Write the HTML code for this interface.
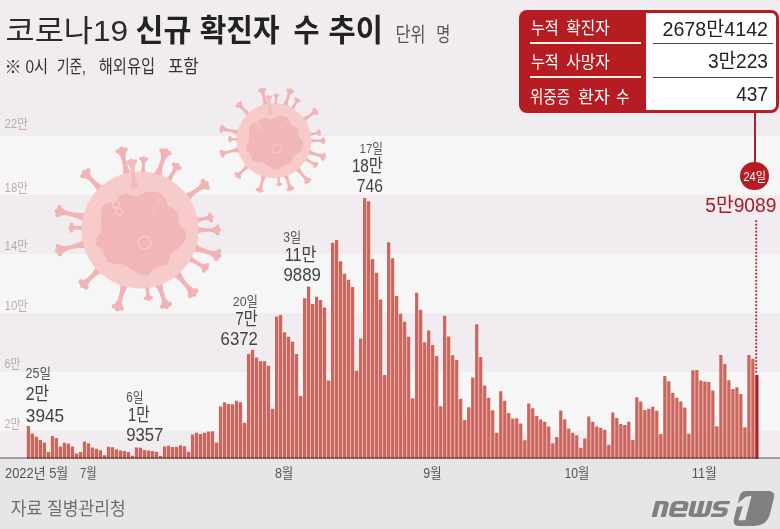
<!DOCTYPE html>
<html lang="ko"><head><meta charset="utf-8"><title>코로나19 신규 확진자 수 추이</title>
<style>
html,body{margin:0;padding:0}
body{width:780px;height:529px;overflow:hidden;position:relative;background:#f1ecf0;font-family:"Liberation Sans",sans-serif}
#box{position:absolute;left:519px;top:9.5px;width:259.5px;height:103px;background:#b51d22;border-radius:8px}
#box .w{position:absolute;left:127px;top:3.0px;width:129.5px;height:97px;background:#fff;border-radius:0 5px 5px 0}
#box i{position:absolute;height:1.5px;display:block}
#stem{position:absolute;left:753.6px;top:112px;width:2px;height:52px;background:#b51d22}
#dot{position:absolute;left:740.3px;top:162.10000000000002px;width:28.4px;height:28.4px;border-radius:50%;background:#b51d22}
#base{position:absolute;left:0;top:456.5px;width:780px;height:2.3px;background:#adadad;mix-blend-mode:multiply}
#txt text{font-family:"Liberation Sans","Noto Sans CJK KR",sans-serif}
</style></head><body>
<div style="position:absolute;left:0;top:135.5px;width:780px;height:59.5px;background:#f7f6f7"></div><div style="position:absolute;left:0;top:254px;width:780px;height:58.5px;background:#f7f6f7"></div><div style="position:absolute;left:0;top:371.5px;width:780px;height:59px;background:#f7f6f7"></div><div style="position:absolute;left:0;top:458px;width:780px;height:71px;background:#e6e6e6"></div>
<svg width="780" height="529" viewBox="0 0 780 529" style="position:absolute;left:0;top:0"><defs><g id="virus"><g fill="#f0b4b7"><path d="M-7.61 -55.2L-8.76 -56.88L-9.8 -58.58L-10.73 -60.31L-11.54 -62.07L-12.25 -63.85L-12.84 -65.65L-13.32 -67.48L-13.75 -69.33L-14.17 -71.17L-14.5 -73.04L-14.43 -75L-14.09 -77.02L-13.53 -79.09L-12.79 -81.2L-24.1 -78.59L-22.51 -77.02L-21.1 -75.4L-19.91 -73.73L-18.98 -72L-18.46 -70.18L-18.03 -68.34L-17.61 -66.49L-17.24 -64.64L-16.98 -62.75L-16.83 -60.84L-16.8 -58.91L-16.87 -56.95L-17.06 -54.96L-17.36 -52.95zM6.5 -55.24L6.03 -56.4L5.63 -57.57L5.32 -58.73L5.1 -59.89L4.95 -61.04L4.89 -62.19L4.91 -63.33L4.96 -64.47L5.02 -65.61L5.16 -66.75L5.58 -67.87L6.21 -68.98L6.99 -70.09L7.91 -71.18L-0.43 -71.62L0.37 -70.43L1.04 -69.25L1.54 -68.08L1.85 -66.92L1.86 -65.78L1.8 -64.64L1.74 -63.5L1.64 -62.36L1.46 -61.22L1.19 -60.09L0.84 -58.97L0.42 -57.84L-0.1 -56.73L-0.69 -55.61zM21.91 -51.24L21.8 -53.3L21.79 -55.33L21.9 -57.32L22.12 -59.28L22.44 -61.2L22.87 -63.09L23.41 -64.94L24.01 -66.78L24.61 -68.61L25.3 -70.41L26.38 -72.09L27.72 -73.68L29.28 -75.21L31.01 -76.67L19.98 -80.25L20.52 -78.05L20.88 -75.91L21.03 -73.83L20.92 -71.84L20.42 -69.97L19.83 -68.14L19.23 -66.3L18.58 -64.49L17.82 -62.71L16.95 -60.96L15.98 -59.25L14.89 -57.57L13.7 -55.93L12.4 -54.33zM31.43 -45.94L31.54 -47.4L31.74 -48.81L32.02 -50.17L32.39 -51.49L32.84 -52.75L33.38 -53.97L33.99 -55.14L34.66 -56.28L35.32 -57.43L36.05 -58.53L37.09 -59.46L38.33 -60.27L39.73 -60.99L41.27 -61.62L32.73 -66.55L32.95 -64.9L33.03 -63.33L32.95 -61.85L32.66 -60.49L32.08 -59.3L31.42 -58.15L30.76 -57.01L30.05 -55.89L29.27 -54.82L28.39 -53.8L27.44 -52.82L26.4 -51.9L25.28 -51.02L24.07 -50.19zM48.33 -27.74L49.34 -29.35L50.41 -30.87L51.55 -32.29L52.75 -33.63L54.02 -34.86L55.36 -36.01L56.76 -37.06L58.19 -38.06L59.63 -39.07L61.12 -39.99L62.84 -40.57L64.73 -40.93L66.74 -41.11L68.86 -41.14L62.21 -50.64L61.46 -48.65L60.6 -46.83L59.62 -45.18L58.48 -43.76L57.1 -42.67L55.67 -41.67L54.24 -40.66L52.77 -39.7L51.24 -38.84L49.64 -38.07L47.98 -37.4L46.25 -36.81L44.45 -36.32L42.6 -35.93zM55.35 -5.7L56.41 -6.49L57.48 -7.19L58.57 -7.8L59.68 -8.32L60.8 -8.75L61.93 -9.09L63.09 -9.34L64.25 -9.54L65.41 -9.75L66.58 -9.87L67.81 -9.67L69.08 -9.26L70.38 -8.67L71.71 -7.93L70.1 -17.07L69.11 -15.92L68.09 -14.93L67.03 -14.1L65.94 -13.5L64.8 -13.21L63.64 -13.01L62.48 -12.8L61.31 -12.64L60.12 -12.57L58.92 -12.59L57.71 -12.71L56.47 -12.91L55.23 -13.2L53.96 -13.58zM55.5 4.25L57.11 3.62L58.71 3.08L60.32 2.65L61.93 2.31L63.54 2.06L65.14 1.92L66.75 1.87L68.36 1.87L69.96 1.87L71.57 1.96L73.18 2.39L74.79 3.06L76.39 3.91L78 4.93L78 -4.93L76.39 -3.91L74.79 -3.06L73.18 -2.39L71.57 -1.96L69.96 -1.87L68.36 -1.87L66.75 -1.87L65.14 -1.92L63.54 -2.06L61.93 -2.31L60.32 -2.65L58.71 -3.08L57.11 -3.62L55.5 -4.25zM51.24 21.91L53.27 21.78L55.26 21.77L57.22 21.87L59.15 22.07L61.03 22.38L62.89 22.81L64.71 23.34L66.51 23.92L68.31 24.51L70.07 25.19L71.72 26.26L73.27 27.59L74.76 29.13L76.19 30.86L79.78 19.82L77.61 20.38L75.5 20.75L73.45 20.91L71.5 20.81L69.67 20.32L67.87 19.74L66.06 19.15L64.28 18.51L62.54 17.77L60.82 16.91L59.15 15.94L57.51 14.87L55.9 13.69L54.33 12.4zM45.94 31.43L47.52 31.62L49.06 31.89L50.55 32.24L51.98 32.68L53.37 33.2L54.71 33.8L56.01 34.49L57.27 35.23L58.54 35.96L59.77 36.77L60.82 37.87L61.75 39.18L62.59 40.66L63.35 42.27L68.28 33.73L66.51 33.88L64.81 33.89L63.21 33.73L61.72 33.38L60.41 32.72L59.14 31.99L57.88 31.26L56.63 30.48L55.44 29.62L54.29 28.68L53.19 27.65L52.14 26.54L51.14 25.35L50.19 24.07zM31.84 45.73L33.68 46.76L35.42 47.86L37.08 49.03L38.65 50.28L40.13 51.6L41.52 52.99L42.83 54.46L44.09 55.97L45.35 57.47L46.54 59.04L47.41 60.87L48.07 62.88L48.56 65.04L48.91 67.31L57.79 59.85L55.61 59.12L53.58 58.26L51.72 57.26L50.06 56.08L48.72 54.64L47.46 53.14L46.2 51.63L44.98 50.09L43.85 48.48L42.8 46.79L41.85 45.03L40.98 43.19L40.2 41.28L39.5 39.3zM13.34 54.1L14.61 55.52L15.78 56.97L16.83 58.45L17.78 59.98L18.62 61.54L19.35 63.14L19.98 64.78L20.55 66.43L21.12 68.08L21.59 69.77L21.68 71.59L21.5 73.5L21.12 75.49L20.56 77.53L31.53 73.75L29.83 72.49L28.31 71.16L26.99 69.76L25.94 68.27L25.28 66.65L24.71 65L24.14 63.34L23.62 61.67L23.21 59.96L22.91 58.21L22.72 56.43L22.64 54.6L22.66 52.74L22.8 50.85zM3.04 55.54L3.71 56.43L4.3 57.33L4.8 58.24L5.21 59.16L5.54 60.09L5.79 61.04L5.95 61.99L6.07 62.94L6.18 63.9L6.23 64.87L5.96 65.87L5.5 66.9L4.86 67.95L4.09 69.02L12.73 67.96L11.72 67.11L10.85 66.24L10.15 65.36L9.65 64.45L9.46 63.5L9.34 62.54L9.22 61.58L9.15 60.62L9.16 59.65L9.25 58.67L9.43 57.67L9.7 56.67L10.05 55.65L10.49 54.63zM-20.1 51.97L-19.89 53.93L-19.79 55.85L-19.8 57.74L-19.92 59.61L-20.14 61.43L-20.48 63.23L-20.93 65L-21.43 66.75L-21.93 68.5L-22.53 70.22L-23.52 71.83L-24.78 73.37L-26.25 74.84L-27.9 76.26L-16.75 79.46L-17.4 77.38L-17.86 75.35L-18.12 73.38L-18.11 71.49L-17.7 69.71L-17.2 67.96L-16.7 66.21L-16.14 64.48L-15.47 62.77L-14.7 61.1L-13.81 59.46L-12.81 57.85L-11.71 56.27L-10.49 54.73zM-43.4 34.96L-44.09 36.66L-44.86 38.28L-45.71 39.81L-46.64 41.27L-47.65 42.64L-48.74 43.93L-49.9 45.13L-51.11 46.3L-52.32 47.47L-53.6 48.56L-55.16 49.36L-56.91 49.96L-58.82 50.4L-60.86 50.71L-52.8 59.05L-52.42 57.02L-51.91 55.13L-51.25 53.4L-50.4 51.87L-49.26 50.63L-48.05 49.46L-46.85 48.3L-45.6 47.17L-44.27 46.13L-42.87 45.17L-41.38 44.29L-39.82 43.5L-38.17 42.78L-36.45 42.15zM-55.06 8.58L-56.86 9.79L-58.68 10.89L-60.53 11.88L-62.41 12.76L-64.32 13.53L-66.25 14.19L-68.21 14.74L-70.19 15.23L-72.16 15.72L-74.16 16.12L-76.26 16.12L-78.42 15.85L-80.64 15.36L-82.91 14.69L-80.1 25.95L-78.42 24.3L-76.68 22.83L-74.9 21.57L-73.05 20.58L-71.1 19.99L-69.12 19.5L-67.15 19.01L-65.16 18.57L-63.14 18.25L-61.1 18.03L-59.02 17.93L-56.92 17.93L-54.8 18.05L-52.64 18.28zM-55.33 -5.93L-56.31 -5.37L-57.29 -4.91L-58.27 -4.53L-59.25 -4.24L-60.22 -4.05L-61.19 -3.94L-62.15 -3.93L-63.11 -3.97L-64.08 -4L-65.04 -4.11L-65.99 -4.56L-66.93 -5.22L-67.87 -6.05L-68.8 -7.05L-69.12 2.23L-68.12 1.31L-67.13 0.54L-66.15 -0.06L-65.17 -0.43L-64.2 -0.48L-63.24 -0.45L-62.27 -0.41L-61.31 -0.33L-60.35 -0.16L-59.4 0.1L-58.44 0.45L-57.49 0.9L-56.55 1.43L-55.61 2.06zM-52.95 -17.36L-55.1 -17.09L-57.23 -16.94L-59.33 -16.89L-61.4 -16.96L-63.45 -17.14L-65.47 -17.43L-67.47 -17.83L-69.45 -18.29L-71.43 -18.75L-73.4 -19.31L-75.26 -20.26L-77.07 -21.49L-78.83 -22.92L-80.54 -24.55L-83.15 -13.24L-80.9 -13.95L-78.69 -14.47L-76.53 -14.78L-74.43 -14.82L-72.42 -14.46L-70.44 -14L-68.46 -13.55L-66.49 -13.03L-64.54 -12.41L-62.62 -11.67L-60.73 -10.82L-58.86 -9.87L-57.02 -8.79L-55.2 -7.61zM-34.96 -43.4L-36.66 -44.09L-38.28 -44.86L-39.81 -45.71L-41.27 -46.64L-42.64 -47.65L-43.93 -48.74L-45.13 -49.9L-46.3 -51.11L-47.47 -52.32L-48.56 -53.6L-49.36 -55.16L-49.96 -56.91L-50.4 -58.82L-50.71 -60.86L-59.05 -52.8L-57.02 -52.42L-55.13 -51.91L-53.4 -51.25L-51.87 -50.4L-50.63 -49.26L-49.46 -48.05L-48.3 -46.85L-47.17 -45.6L-46.13 -44.27L-45.17 -42.87L-44.29 -41.38L-43.5 -39.82L-42.78 -38.17L-42.15 -36.45z"/><circle cx="-22.2" cy="-78.62" r="2.4"/><circle cx="-18.63" cy="-80.68" r="2.6"/><circle cx="-14.51" cy="-80.4" r="2.4"/><circle cx="0.89" cy="-71.26" r="1.73"/><circle cx="3.77" cy="-71.98" r="1.87"/><circle cx="6.56" cy="-70.97" r="1.73"/><circle cx="21.62" cy="-79.3" r="2.4"/><circle cx="25.74" cy="-79.22" r="2.6"/><circle cx="29.12" cy="-76.86" r="2.4"/><circle cx="33.93" cy="-65.47" r="2.04"/><circle cx="37.34" cy="-64.67" r="2.21"/><circle cx="39.73" cy="-62.12" r="2.04"/><circle cx="62.94" cy="-48.89" r="2.4"/><circle cx="66.19" cy="-46.34" r="2.6"/><circle cx="67.47" cy="-42.43" r="2.4"/><circle cx="70.04" cy="-15.55" r="1.92"/><circle cx="71.54" cy="-12.61" r="2.08"/><circle cx="71.14" cy="-9.34" r="1.92"/><circle cx="77.66" cy="-3.35" r="2.04"/><circle cx="78.68" cy="0" r="2.21"/><circle cx="77.66" cy="3.35" r="2.04"/><circle cx="78.82" cy="21.46" r="2.4"/><circle cx="78.75" cy="25.59" r="2.6"/><circle cx="76.39" cy="28.97" r="2.4"/><circle cx="67.2" cy="34.93" r="2.04"/><circle cx="66.41" cy="38.34" r="2.21"/><circle cx="63.85" cy="40.73" r="2.04"/><circle cx="56.12" cy="60.74" r="2.4"/><circle cx="53.87" cy="64.19" r="2.6"/><circle cx="50.07" cy="65.81" r="2.4"/><circle cx="29.64" cy="73.98" r="2.4"/><circle cx="26.31" cy="76.4" r="2.6"/><circle cx="22.19" cy="76.55" r="2.4"/><circle cx="11.31" cy="67.83" r="1.8"/><circle cx="8.48" cy="69.08" r="1.95"/><circle cx="5.44" cy="68.55" r="1.8"/><circle cx="-18.43" cy="78.56" r="2.4"/><circle cx="-22.55" cy="78.63" r="2.6"/><circle cx="-26.01" cy="76.39" r="2.4"/><circle cx="-53.8" cy="57.44" r="2.4"/><circle cx="-57.4" cy="55.43" r="2.6"/><circle cx="-59.28" cy="51.76" r="2.4"/><circle cx="-80.16" cy="24.05" r="2.4"/><circle cx="-82.28" cy="20.51" r="2.6"/><circle cx="-82.07" cy="16.4" r="2.4"/><circle cx="-68.75" cy="0.76" r="1.92"/><circle cx="-69.6" cy="-2.43" r="2.08"/><circle cx="-68.53" cy="-5.55" r="1.92"/><circle cx="-82.34" cy="-14.96" r="2.4"/><circle cx="-82.63" cy="-19.08" r="2.6"/><circle cx="-80.57" cy="-22.65" r="2.4"/><circle cx="-57.44" cy="-53.8" r="2.4"/><circle cx="-55.43" cy="-57.4" r="2.6"/><circle cx="-51.76" cy="-59.28" r="2.4"/></g><circle r="58.5" fill="#f6cbc9"/><path fill="#f1b6b7" d="M46.17 2L45.89 8.77L42.45 14.85L37.09 19.6L31.19 23.1L29.27 29.26L26.13 35.5L18.93 36.61L13.08 39.5L7.35 45.21L0 44.69L-6.54 40.48L-12.33 37.34L-17.71 34.37L-24.83 33.83L-32.6 32.36L-35.27 25.87L-37.75 19.92L-43.76 15.24L-43.91 8.48L-39.51 2L-38.74 -3.71L-39.03 -9.81L-39.26 -16.63L-38.13 -23.8L-31.31 -27.17L-24.23 -29.06L-19.96 -34.49L-13.39 -36.39L-6.06 -33.61L0 -35.11L6.86 -38.34L14.15 -38.55L21.19 -36.73L25.53 -30.73L27.98 -24.06L34.05 -21.04L38.59 -16.31L37.73 -9.42L40.71 -4.01z"/><g fill="#f2bcbd"><path d="M-0.65 -42.24L-1.55 -44.07L-2.35 -45.91L-3.04 -47.77L-3.63 -49.64L-4.12 -51.52L-4.51 -53.42L-4.8 -55.33L-5.03 -57.24L-5.27 -59.16L-5.41 -61.08L-5.19 -63.05L-4.73 -65.05L-4.06 -67.08L-3.23 -69.12L-13.59 -67.85L-12.29 -66.07L-11.15 -64.26L-10.22 -62.43L-9.52 -60.58L-9.2 -58.67L-8.96 -56.76L-8.73 -54.85L-8.55 -52.92L-8.46 -50.99L-8.48 -49.05L-8.61 -47.09L-8.83 -45.12L-9.16 -43.13L-9.58 -41.14zM14.5 -14.34L14.65 -15.62L14.87 -16.85L15.17 -18.03L15.54 -19.16L15.99 -20.23L16.52 -21.26L17.12 -22.23L17.76 -23.18L18.39 -24.12L19.1 -25.03L20.08 -25.75L21.24 -26.34L22.54 -26.84L23.98 -27.25L16.28 -32.44L16.44 -30.96L16.47 -29.56L16.35 -28.26L16.05 -27.08L15.48 -26.09L14.84 -25.14L14.2 -24.2L13.52 -23.28L12.77 -22.4L11.94 -21.58L11.04 -20.82L10.06 -20.1L9 -19.43L7.87 -18.82z"/><circle cx="-11.89" cy="-67.7" r="2.16"/><circle cx="-8.5" cy="-69.2" r="2.34"/><circle cx="-4.84" cy="-68.56" r="2.16"/><circle cx="17.34" cy="-31.34" r="1.92"/><circle cx="20.49" cy="-30.38" r="2.08"/><circle cx="22.57" cy="-27.82" r="1.92"/></g><circle cx="4.5" cy="12.5" r="6.4" fill="none" stroke="#f6cfcf" stroke-width="1.2"/><circle cx="-24" cy="-25.5" r="3.3" fill="none" stroke="#f6cfcf" stroke-width="1.2"/><circle cx="-21" cy="-18.5" r="3.3" fill="none" stroke="#f6cfcf" stroke-width="1.2"/></g></defs><use href="#virus" transform="translate(140 230) scale(1.0)"/><use href="#virus" transform="translate(273.9 140.7) scale(0.64)"/><path fill="#f6cbc6" d="M29.7 434.36H31.1V458.7H29.7zM33.7 437.61H35.11V458.7H33.7zM37.71 440.79H39.11V458.7H37.71zM41.71 443.32H43.11V458.7H41.71zM45.71 452.8H47.11V458.7H45.71zM49.71 452.8H51.12V458.7H49.71zM53.72 438.75H55.12V458.7H53.72zM57.72 447.33H59.12V458.7H57.72zM61.72 447.33H63.12V458.7H61.72zM65.72 444.2H67.13V458.7H65.72zM69.73 447.42H71.13V458.7H69.73zM73.73 454.42H75.13V458.7H73.73zM77.73 454.42H79.14V458.7H77.73zM81.74 452.75H83.14V458.7H81.74zM85.74 444.04H87.14V458.7H85.74zM89.74 448.18H91.14V458.7H89.74zM93.74 449.45H95.15V458.7H93.74zM97.75 450.99H99.15V458.7H97.75zM101.75 456.16H103.15V458.7H101.75zM105.75 456.16H107.15V458.7H105.75zM109.75 448H111.16V458.7H109.75zM113.76 450.1H115.16V458.7H113.76zM117.76 451.26H119.16V458.7H117.76zM121.76 451.78H123.16V458.7H121.76zM125.76 452.9H127.17V458.7H125.76zM129.77 456.58H131.17V458.7H129.77zM133.77 456.58H135.17V458.7H133.77zM137.77 448.65H139.18V458.7H137.77zM141.78 450.82H143.18V458.7H141.78zM145.78 451.22H147.18V458.7H145.78zM149.78 451.85H151.18V458.7H149.78zM153.78 452.64H155.19V458.7H153.78zM157.79 456.74H159.19V458.7H157.79zM161.79 456.74H163.19V458.7H161.79zM165.79 447.33H167.19V458.7H165.79zM169.79 447.77H171.2V458.7H169.79zM173.8 447.87H175.2V458.7H173.8zM177.8 447.87H179.2V458.7H177.8zM181.8 447.1H183.21V458.7H181.8zM185.81 452.63H187.21V458.7H185.81zM189.81 452.63H191.21V458.7H189.81zM193.81 435.33H195.21V458.7H193.81zM197.81 434.8H199.22V458.7H197.81zM201.82 434.8H203.22V458.7H201.82zM205.82 433.62H207.22V458.7H205.82zM209.82 432.22H211.22V458.7H209.82zM213.82 443.27H215.23V458.7H213.82zM217.83 443.27H219.23V458.7H217.83zM221.83 407.38H223.23V458.7H221.83zM225.83 404.71H227.24V458.7H225.83zM229.83 405.17H231.24V458.7H229.83zM233.84 405.17H235.24V458.7H233.84zM237.84 403.04H239.24V458.7H237.84zM241.84 423.47H243.25V458.7H241.84zM245.85 423.47H247.25V458.7H245.85zM249.85 354.69H251.25V458.7H249.85zM253.85 358.2H255.25V458.7H253.85zM257.85 361.89H259.26V458.7H257.85zM261.86 362.01H263.26V458.7H261.86zM265.86 366.54H267.26V458.7H265.86zM269.86 409.53H271.26V458.7H269.86zM273.86 409.53H275.27V458.7H273.86zM277.87 317.24H279.27V458.7H277.87zM281.87 333.16H283.27V458.7H281.87zM285.87 337.61H287.28V458.7H285.87zM289.88 342.44H291.28V458.7H289.88zM293.88 354.68H295.28V458.7H293.88zM297.88 396.72H299.28V458.7H297.88zM301.88 396.72H303.29V458.7H301.88zM305.89 299.11H307.29V458.7H305.89zM309.89 304.78H311.29V458.7H309.89zM313.89 304.78H315.29V458.7H313.89zM317.89 300.74H319.3V458.7H317.89zM321.9 308.25H323.3V458.7H321.9zM325.9 381.3H327.3V458.7H325.9zM329.9 381.3H331.31V458.7H329.9zM333.91 243.67H335.31V458.7H333.91zM337.91 262.09H339.31V458.7H337.91zM341.91 274.49H343.31V458.7H341.91zM345.91 280.49H347.32V458.7H345.91zM349.92 287.74H351.32V458.7H349.92zM353.92 371.43H355.32V458.7H353.92zM357.92 371.43H359.32V458.7H357.92zM361.92 339.35H363.33V458.7H361.92zM365.93 201.96H367.33V458.7H365.93zM369.93 259.8H371.33V458.7H369.93zM373.93 273.48H375.33V458.7H373.93zM377.93 300.34H379.34V458.7H377.93zM381.94 375.84H383.34V458.7H381.94zM385.94 375.84H387.34V458.7H385.94zM389.94 259.03H391.35V458.7H389.94zM393.95 296.81H395.35V458.7H393.95zM397.95 314.6H399.35V458.7H397.95zM401.95 322.65H403.35V458.7H401.95zM405.95 337.65H407.36V458.7H405.95zM409.96 398.97H411.36V458.7H409.96zM413.96 398.97H415.36V458.7H413.96zM417.96 310.5H419.36V458.7H417.96zM421.96 343.07H423.37V458.7H421.96zM425.97 343.07H427.37V458.7H425.97zM429.97 345.72H431.37V458.7H429.97zM433.97 356.78H435.38V458.7H433.97zM437.98 407.11H439.38V458.7H437.98zM441.98 407.11H443.38V458.7H441.98zM445.98 337.29H447.38V458.7H445.98zM449.98 356.05H451.39V458.7H449.98zM453.99 360.76H455.39V458.7H453.99zM457.99 399.58H459.39V458.7H457.99zM461.99 420.69H463.39V458.7H461.99zM465.99 420.69H467.4V458.7H465.99zM470 408H471.4V458.7H470zM474 378.36H475.4V458.7H474zM478 357.76H479.41V458.7H478zM482.01 386.27H483.41V458.7H482.01zM486.01 398.51H487.41V458.7H486.01zM490.01 411.16H491.41V458.7H490.01zM494.01 433.5H495.42V458.7H494.01zM498.02 433.5H499.42V458.7H498.02zM502.02 401.67H503.42V458.7H502.02zM506.02 413.71H507.42V458.7H506.02zM510.02 419.39H511.43V458.7H510.02zM514.03 419.39H515.43V458.7H514.03zM518.03 424.21H519.43V458.7H518.03zM522.03 441.12H523.43V458.7H522.03zM526.03 441.12H527.44V458.7H526.03zM530.04 409.13H531.44V458.7H530.04zM534.04 416.81H535.44V458.7H534.04zM538.04 420.28H539.45V458.7H538.04zM542.05 422.51H543.45V458.7H542.05zM546.05 427.4H547.45V458.7H546.05zM550.05 444.06H551.45V458.7H550.05zM554.05 444.06H555.46V458.7H554.05zM558.06 437.84H559.46V458.7H558.06zM562.06 420.06H563.46V458.7H562.06zM566.06 429.29H567.46V458.7H566.06zM570.06 433.46H571.47V458.7H570.06zM574.07 436.05H575.47V458.7H574.07zM578.07 448.67H579.47V458.7H578.07zM582.07 448.67H583.48V458.7H582.07zM586.08 439.22H587.48V458.7H586.08zM590.08 422.52H591.48V458.7H590.08zM594.08 427.42H595.48V458.7H594.08zM598.08 428.5H599.49V458.7H598.08zM602.09 430.5H603.49V458.7H602.09zM606.09 445.67H607.49V458.7H606.09zM610.09 445.67H611.49V458.7H610.09zM614.09 418.81H615.5V458.7H614.09zM618.1 424.74H619.5V458.7H618.1zM622.1 425.72H623.5V458.7H622.1zM626.1 425.72H627.5V458.7H626.1zM630.11 440.92H631.51V458.7H630.11zM634.11 440.92H635.51V458.7H634.11zM638.11 402.32H639.51V458.7H638.11zM642.11 410.83H643.52V458.7H642.11zM646.12 410.83H647.52V458.7H646.12zM650.12 409.47H651.52V458.7H650.12zM654.12 411.53H655.52V458.7H654.12zM658.12 434.8H659.53V458.7H658.12zM662.13 434.8H663.53V458.7H662.13zM666.13 382.06H667.53V458.7H666.13zM670.13 393.51H671.53V458.7H670.13zM674.13 398.52H675.54V458.7H674.13zM678.14 402.23H679.54V458.7H678.14zM682.14 408.38H683.54V458.7H682.14zM686.14 434.57H687.55V458.7H686.14zM690.15 434.57H691.55V458.7H690.15zM694.15 371.14H695.55V458.7H694.15zM698.15 381.19H699.55V458.7H698.15zM702.15 382.42H703.56V458.7H702.15zM706.16 382.7H707.56V458.7H706.16zM710.16 391.23H711.56V458.7H710.16zM714.16 427.16H715.56V458.7H714.16zM718.16 427.16H719.57V458.7H718.16zM722.17 364.87H723.57V458.7H722.17zM726.17 381.09H727.57V458.7H726.17zM730.17 389.84H731.58V458.7H730.17zM734.18 389.84H735.58V458.7H734.18zM738.18 394.8H739.58V458.7H738.18zM742.18 428.14H743.58V458.7H742.18zM746.18 428.14H747.59V458.7H746.18zM750.19 359.43H751.59V458.7H750.19zM754.19 375.77H755.59V458.7H754.19z"/><path fill="#c9675f" d="M26.8 426.1h3.2V458.7h-3.2zM30.8 433.56h3.2V458.7h-3.2zM34.81 436.81h3.2V458.7h-3.2zM38.81 439.99h3.2V458.7h-3.2zM42.81 442.52h3.2V458.7h-3.2zM46.81 452h3.2V458.7h-3.2zM50.82 435.92h3.2V458.7h-3.2zM54.82 437.95h3.2V458.7h-3.2zM58.82 446.53h3.2V458.7h-3.2zM62.82 442.69h3.2V458.7h-3.2zM66.83 443.4h3.2V458.7h-3.2zM70.83 446.62h3.2V458.7h-3.2zM74.83 453.62h3.2V458.7h-3.2zM78.84 451.95h3.2V458.7h-3.2zM82.84 441.5h3.2V458.7h-3.2zM86.84 443.24h3.2V458.7h-3.2zM90.84 447.38h3.2V458.7h-3.2zM94.85 448.65h3.2V458.7h-3.2zM98.85 450.19h3.2V458.7h-3.2zM102.85 455.36h3.2V458.7h-3.2zM106.85 446.71h3.2V458.7h-3.2zM110.86 447.2h3.2V458.7h-3.2zM114.86 449.3h3.2V458.7h-3.2zM118.86 450.46h3.2V458.7h-3.2zM122.86 450.98h3.2V458.7h-3.2zM126.87 452.1h3.2V458.7h-3.2zM130.87 455.78h3.2V458.7h-3.2zM134.87 447.39h3.2V458.7h-3.2zM138.88 447.85h3.2V458.7h-3.2zM142.88 450.02h3.2V458.7h-3.2zM146.88 450.42h3.2V458.7h-3.2zM150.88 451.05h3.2V458.7h-3.2zM154.89 451.84h3.2V458.7h-3.2zM158.89 455.94h3.2V458.7h-3.2zM162.89 446.53h3.2V458.7h-3.2zM166.89 445.71h3.2V458.7h-3.2zM170.9 446.97h3.2V458.7h-3.2zM174.9 447.07h3.2V458.7h-3.2zM178.9 445.34h3.2V458.7h-3.2zM182.91 446.3h3.2V458.7h-3.2zM186.91 451.83h3.2V458.7h-3.2zM190.91 434.53h3.2V458.7h-3.2zM194.91 432.77h3.2V458.7h-3.2zM198.92 434h3.2V458.7h-3.2zM202.92 432.82h3.2V458.7h-3.2zM206.92 431.42h3.2V458.7h-3.2zM210.92 431.24h3.2V458.7h-3.2zM214.93 442.47h3.2V458.7h-3.2zM218.93 406.58h3.2V458.7h-3.2zM222.93 402.36h3.2V458.7h-3.2zM226.94 403.91h3.2V458.7h-3.2zM230.94 404.37h3.2V458.7h-3.2zM234.94 400.84h3.2V458.7h-3.2zM238.94 402.24h3.2V458.7h-3.2zM242.95 422.67h3.2V458.7h-3.2zM246.95 353.89h3.2V458.7h-3.2zM250.95 349.83h3.2V458.7h-3.2zM254.95 357.4h3.2V458.7h-3.2zM258.96 361.09h3.2V458.7h-3.2zM262.96 361.21h3.2V458.7h-3.2zM266.96 365.74h3.2V458.7h-3.2zM270.96 408.73h3.2V458.7h-3.2zM274.97 316.44h3.2V458.7h-3.2zM278.97 315.05h3.2V458.7h-3.2zM282.97 332.36h3.2V458.7h-3.2zM286.98 336.81h3.2V458.7h-3.2zM290.98 341.64h3.2V458.7h-3.2zM294.98 353.88h3.2V458.7h-3.2zM298.98 395.92h3.2V458.7h-3.2zM302.99 298.31h3.2V458.7h-3.2zM306.99 286.53h3.2V458.7h-3.2zM310.99 303.98h3.2V458.7h-3.2zM314.99 296.69h3.2V458.7h-3.2zM319 299.94h3.2V458.7h-3.2zM323 307.45h3.2V458.7h-3.2zM327 380.5h3.2V458.7h-3.2zM331.01 242.87h3.2V458.7h-3.2zM335.01 240.12h3.2V458.7h-3.2zM339.01 261.29h3.2V458.7h-3.2zM343.01 273.69h3.2V458.7h-3.2zM347.02 279.69h3.2V458.7h-3.2zM351.02 286.94h3.2V458.7h-3.2zM355.02 370.63h3.2V458.7h-3.2zM359.02 338.55h3.2V458.7h-3.2zM363.03 198h3.2V458.7h-3.2zM367.03 201.16h3.2V458.7h-3.2zM371.03 259h3.2V458.7h-3.2zM375.03 272.68h3.2V458.7h-3.2zM379.04 299.54h3.2V458.7h-3.2zM383.04 375.04h3.2V458.7h-3.2zM387.04 242.35h3.2V458.7h-3.2zM391.05 258.23h3.2V458.7h-3.2zM395.05 296.01h3.2V458.7h-3.2zM399.05 313.8h3.2V458.7h-3.2zM403.05 321.85h3.2V458.7h-3.2zM407.06 336.85h3.2V458.7h-3.2zM411.06 398.17h3.2V458.7h-3.2zM415.06 292.71h3.2V458.7h-3.2zM419.06 309.7h3.2V458.7h-3.2zM423.07 342.27h3.2V458.7h-3.2zM427.07 330.61h3.2V458.7h-3.2zM431.07 344.92h3.2V458.7h-3.2zM435.08 355.98h3.2V458.7h-3.2zM439.08 406.31h3.2V458.7h-3.2zM443.08 315.7h3.2V458.7h-3.2zM447.08 336.49h3.2V458.7h-3.2zM451.09 355.25h3.2V458.7h-3.2zM455.09 359.96h3.2V458.7h-3.2zM459.09 398.78h3.2V458.7h-3.2zM463.09 419.89h3.2V458.7h-3.2zM467.1 407.2h3.2V458.7h-3.2zM471.1 377.56h3.2V458.7h-3.2zM475.1 324.22h3.2V458.7h-3.2zM479.11 356.96h3.2V458.7h-3.2zM483.11 385.47h3.2V458.7h-3.2zM487.11 397.71h3.2V458.7h-3.2zM491.11 410.36h3.2V458.7h-3.2zM495.12 432.7h3.2V458.7h-3.2zM499.12 391.23h3.2V458.7h-3.2zM503.12 400.87h3.2V458.7h-3.2zM507.12 412.91h3.2V458.7h-3.2zM511.13 418.59h3.2V458.7h-3.2zM515.13 418.23h3.2V458.7h-3.2zM519.13 423.41h3.2V458.7h-3.2zM523.13 440.32h3.2V458.7h-3.2zM527.14 403.58h3.2V458.7h-3.2zM531.14 408.33h3.2V458.7h-3.2zM535.14 416.01h3.2V458.7h-3.2zM539.15 419.48h3.2V458.7h-3.2zM543.15 421.71h3.2V458.7h-3.2zM547.15 426.6h3.2V458.7h-3.2zM551.15 443.26h3.2V458.7h-3.2zM555.16 437.04h3.2V458.7h-3.2zM559.16 410.4h3.2V458.7h-3.2zM563.16 419.26h3.2V458.7h-3.2zM567.16 428.49h3.2V458.7h-3.2zM571.17 432.66h3.2V458.7h-3.2zM575.17 435.25h3.2V458.7h-3.2zM579.17 447.87h3.2V458.7h-3.2zM583.18 438.42h3.2V458.7h-3.2zM587.18 416.51h3.2V458.7h-3.2zM591.18 421.72h3.2V458.7h-3.2zM595.18 426.62h3.2V458.7h-3.2zM599.19 427.7h3.2V458.7h-3.2zM603.19 429.7h3.2V458.7h-3.2zM607.19 444.87h3.2V458.7h-3.2zM611.19 412.56h3.2V458.7h-3.2zM615.2 418.01h3.2V458.7h-3.2zM619.2 423.94h3.2V458.7h-3.2zM623.2 424.92h3.2V458.7h-3.2zM627.2 421.79h3.2V458.7h-3.2zM631.21 440.12h3.2V458.7h-3.2zM635.21 397.27h3.2V458.7h-3.2zM639.21 401.52h3.2V458.7h-3.2zM643.22 410.03h3.2V458.7h-3.2zM647.22 408.67h3.2V458.7h-3.2zM651.22 406.64h3.2V458.7h-3.2zM655.22 410.73h3.2V458.7h-3.2zM659.23 434h3.2V458.7h-3.2zM663.23 376.01h3.2V458.7h-3.2zM667.23 381.26h3.2V458.7h-3.2zM671.23 392.71h3.2V458.7h-3.2zM675.24 397.72h3.2V458.7h-3.2zM679.24 401.43h3.2V458.7h-3.2zM683.24 407.58h3.2V458.7h-3.2zM687.25 433.77h3.2V458.7h-3.2zM691.25 370.34h3.2V458.7h-3.2zM695.25 370.05h3.2V458.7h-3.2zM699.25 380.39h3.2V458.7h-3.2zM703.26 381.62h3.2V458.7h-3.2zM707.26 381.9h3.2V458.7h-3.2zM711.26 390.43h3.2V458.7h-3.2zM715.26 426.36h3.2V458.7h-3.2zM719.27 354.91h3.2V458.7h-3.2zM723.27 364.07h3.2V458.7h-3.2zM727.27 380.29h3.2V458.7h-3.2zM731.28 389.04h3.2V458.7h-3.2zM735.28 387.34h3.2V458.7h-3.2zM739.28 394h3.2V458.7h-3.2zM743.28 427.34h3.2V458.7h-3.2zM747.29 354.92h3.2V458.7h-3.2zM751.29 358.63h3.2V458.7h-3.2z"/><path fill="#ab222a" d="M755.29 374.97h3.2V458.7h-3.2z"/><g fill="#b51d22"><rect x="755.3" y="220.3" width="1.8" height="1.8"/><rect x="755.3" y="223.8" width="1.8" height="1.8"/><rect x="755.3" y="227.3" width="1.8" height="1.8"/><rect x="755.3" y="230.8" width="1.8" height="1.8"/><rect x="755.3" y="234.3" width="1.8" height="1.8"/><rect x="755.3" y="237.8" width="1.8" height="1.8"/><rect x="755.3" y="241.3" width="1.8" height="1.8"/><rect x="755.3" y="244.8" width="1.8" height="1.8"/><rect x="755.3" y="248.3" width="1.8" height="1.8"/><rect x="755.3" y="251.8" width="1.8" height="1.8"/><rect x="755.3" y="255.3" width="1.8" height="1.8"/><rect x="755.3" y="258.8" width="1.8" height="1.8"/><rect x="755.3" y="262.3" width="1.8" height="1.8"/><rect x="755.3" y="265.8" width="1.8" height="1.8"/><rect x="755.3" y="269.3" width="1.8" height="1.8"/><rect x="755.3" y="272.8" width="1.8" height="1.8"/><rect x="755.3" y="276.3" width="1.8" height="1.8"/><rect x="755.3" y="279.8" width="1.8" height="1.8"/><rect x="755.3" y="283.3" width="1.8" height="1.8"/><rect x="755.3" y="286.8" width="1.8" height="1.8"/><rect x="755.3" y="290.3" width="1.8" height="1.8"/><rect x="755.3" y="293.8" width="1.8" height="1.8"/><rect x="755.3" y="297.3" width="1.8" height="1.8"/><rect x="755.3" y="300.8" width="1.8" height="1.8"/><rect x="755.3" y="304.3" width="1.8" height="1.8"/><rect x="755.3" y="307.8" width="1.8" height="1.8"/><rect x="755.3" y="311.3" width="1.8" height="1.8"/><rect x="755.3" y="314.8" width="1.8" height="1.8"/><rect x="755.3" y="318.3" width="1.8" height="1.8"/><rect x="755.3" y="321.8" width="1.8" height="1.8"/><rect x="755.3" y="325.3" width="1.8" height="1.8"/><rect x="755.3" y="328.8" width="1.8" height="1.8"/><rect x="755.3" y="332.3" width="1.8" height="1.8"/><rect x="755.3" y="335.8" width="1.8" height="1.8"/><rect x="755.3" y="339.3" width="1.8" height="1.8"/><rect x="755.3" y="342.8" width="1.8" height="1.8"/><rect x="755.3" y="346.3" width="1.8" height="1.8"/><rect x="755.3" y="349.8" width="1.8" height="1.8"/><rect x="755.3" y="353.3" width="1.8" height="1.8"/><rect x="755.3" y="356.8" width="1.8" height="1.8"/><rect x="755.3" y="360.3" width="1.8" height="1.8"/><rect x="755.3" y="363.8" width="1.8" height="1.8"/><rect x="755.3" y="367.3" width="1.8" height="1.8"/><rect x="755.3" y="370.8" width="1.8" height="1.8"/></g></svg>
<div id="base"></div>
<div id="box"><div class="w"></div><i style="left:10.5px;top:32.8px;width:111.5px;background:#fbeee8"></i><i style="left:10.5px;top:66.7px;width:111.5px;background:#fbeee8"></i><i style="left:134px;top:33px;width:120px;background:#444"></i><i style="left:134px;top:67px;width:120px;background:#444"></i></div>
<div id="stem"></div><div id="dot"></div>
<svg id="txt" width="780" height="529" viewBox="0 0 780 529" style="position:absolute;left:0;top:0">
<text x="5.6" y="40.6" font-size="30" fill="#2a2a2a" textLength="122.6" lengthAdjust="spacingAndGlyphs">코로나19</text>
<text x="135.6" y="41" font-size="31" font-weight="bold" fill="#222222" textLength="55.8" lengthAdjust="spacingAndGlyphs">신규</text>
<text x="199.7" y="41" font-size="31" font-weight="bold" fill="#222222" textLength="79.8" lengthAdjust="spacingAndGlyphs">확진자</text>
<text x="293.6" y="41" font-size="31" font-weight="bold" fill="#222222" textLength="25.9" lengthAdjust="spacingAndGlyphs">수</text>
<text x="328.5" y="41" font-size="31" font-weight="bold" fill="#222222" textLength="54.3" lengthAdjust="spacingAndGlyphs">추이</text>
<text x="395.6" y="41.8" font-size="20" fill="#555555" textLength="30" lengthAdjust="spacingAndGlyphs">단위</text>
<text x="436.2" y="41.8" font-size="20" fill="#555555" textLength="14.1" lengthAdjust="spacingAndGlyphs">명</text>
<text x="4.6" y="72.6" font-size="17" fill="#333333" font-family="&quot;Noto Sans CJK KR&quot;,sans-serif">※</text>
<text x="25.6" y="73.2" font-size="18" fill="#333333" textLength="22.6" lengthAdjust="spacingAndGlyphs">0시</text>
<text x="56.9" y="73.2" font-size="18" fill="#333333" textLength="29" lengthAdjust="spacingAndGlyphs">기준,</text>
<text x="98.7" y="73.2" font-size="18" fill="#333333" textLength="56.4" lengthAdjust="spacingAndGlyphs">해외유입</text>
<text x="167.9" y="73.2" font-size="18" fill="#333333" textLength="30.8" lengthAdjust="spacingAndGlyphs">포함</text>
<text x="530.9" y="34" font-size="17" fill="#ffffff" textLength="27.9" lengthAdjust="spacingAndGlyphs">누적</text>
<text x="566.3" y="34" font-size="17" fill="#ffffff" textLength="43.5" lengthAdjust="spacingAndGlyphs">확진자</text>
<text x="530.9" y="68" font-size="17" fill="#ffffff" textLength="27.9" lengthAdjust="spacingAndGlyphs">누적</text>
<text x="566.3" y="68" font-size="17" fill="#ffffff" textLength="43.5" lengthAdjust="spacingAndGlyphs">사망자</text>
<text x="530" y="103.4" font-size="17" fill="#ffffff" textLength="40.1" lengthAdjust="spacingAndGlyphs">위중증</text>
<text x="578" y="103.4" font-size="17" fill="#ffffff" textLength="31.8" lengthAdjust="spacingAndGlyphs">환자</text>
<text x="616.2" y="103.4" font-size="17" fill="#ffffff" textLength="12.9" lengthAdjust="spacingAndGlyphs">수</text>
<text x="662.5" y="36.4" font-size="20" fill="#222222" textLength="105.5" lengthAdjust="spacingAndGlyphs">2678만4142</text>
<text x="707.9" y="68" font-size="20" fill="#222222" textLength="60.1" lengthAdjust="spacingAndGlyphs">3만223</text>
<text x="736.2" y="100.8" font-size="20" fill="#222222" textLength="31.8" lengthAdjust="spacingAndGlyphs">437</text>
<text x="743.4" y="180.7" font-size="13" fill="#ffffff" textLength="22.5" lengthAdjust="spacingAndGlyphs">24일</text>
<text x="705.3" y="212.3" font-size="20.5" fill="#a81a24" textLength="71.1" lengthAdjust="spacingAndGlyphs">5만9089</text>
<text x="4.4" y="128.4" font-size="13" fill="#bda7b0" textLength="23.5" lengthAdjust="spacingAndGlyphs">22만</text>
<text x="4.6" y="191.8" font-size="13" fill="#bda7b0" textLength="23.3" lengthAdjust="spacingAndGlyphs">18만</text>
<text x="4.6" y="250.2" font-size="13" fill="#bda7b0" textLength="23.3" lengthAdjust="spacingAndGlyphs">14만</text>
<text x="4.6" y="309.7" font-size="13" fill="#bda7b0" textLength="23.3" lengthAdjust="spacingAndGlyphs">10만</text>
<text x="4.4" y="367.5" font-size="13" fill="#bda7b0" textLength="15.9" lengthAdjust="spacingAndGlyphs">6만</text>
<text x="4.4" y="428.1" font-size="13" fill="#bda7b0" textLength="15.9" lengthAdjust="spacingAndGlyphs">2만</text>
<text x="5" y="477.9" font-size="14" fill="#555555" textLength="63.2" lengthAdjust="spacingAndGlyphs">2022년 5월</text>
<text x="79.9" y="478" font-size="14" fill="#555555" textLength="16.7" lengthAdjust="spacingAndGlyphs">7월</text>
<text x="274.9" y="477.9" font-size="14" fill="#555555" textLength="18.4" lengthAdjust="spacingAndGlyphs">8월</text>
<text x="423.3" y="477.9" font-size="14" fill="#555555" textLength="18.2" lengthAdjust="spacingAndGlyphs">9월</text>
<text x="564.4" y="477.9" font-size="14" fill="#555555" textLength="24.8" lengthAdjust="spacingAndGlyphs">10월</text>
<text x="691.8" y="478" font-size="14" fill="#555555" textLength="25.1" lengthAdjust="spacingAndGlyphs">11월</text>
<text x="10.8" y="514.5" font-size="18" fill="#6e6e6e" textLength="114.9" lengthAdjust="spacingAndGlyphs">자료 질병관리청</text>
<text x="25.6" y="378.3" font-size="14" fill="#565656" textLength="25.4" lengthAdjust="spacingAndGlyphs">25일</text>
<text x="25.8" y="400.3" font-size="18.5" fill="#424242" textLength="23.3" lengthAdjust="spacingAndGlyphs">2만</text>
<text x="25.8" y="421.8" font-size="19" fill="#424242" textLength="38.4" lengthAdjust="spacingAndGlyphs">3945</text>
<text x="126.2" y="401.5" font-size="14" fill="#565656" textLength="17.2" lengthAdjust="spacingAndGlyphs">6일</text>
<text x="128" y="421.3" font-size="18" fill="#424242" textLength="21.7" lengthAdjust="spacingAndGlyphs">1만</text>
<text x="126.2" y="441.4" font-size="18" fill="#424242" textLength="37.1" lengthAdjust="spacingAndGlyphs">9357</text>
<text x="232.8" y="306" font-size="13.5" fill="#565656" textLength="25.1" lengthAdjust="spacingAndGlyphs">20일</text>
<text x="235.2" y="325.3" font-size="18.5" fill="#424242" textLength="22.4" lengthAdjust="spacingAndGlyphs">7만</text>
<text x="220.6" y="345" font-size="18.5" fill="#424242" textLength="37.3" lengthAdjust="spacingAndGlyphs">6372</text>
<text x="283.2" y="241.7" font-size="14" fill="#565656" textLength="17.9" lengthAdjust="spacingAndGlyphs">3일</text>
<text x="284.8" y="261.4" font-size="18.5" fill="#424242" textLength="31.7" lengthAdjust="spacingAndGlyphs">11만</text>
<text x="283.5" y="281.4" font-size="18.5" fill="#424242" textLength="37.4" lengthAdjust="spacingAndGlyphs">9889</text>
<text x="359.5" y="152.9" font-size="13.5" fill="#565656" textLength="23.4" lengthAdjust="spacingAndGlyphs">17일</text>
<text x="351.9" y="172.1" font-size="18" fill="#424242" textLength="31" lengthAdjust="spacingAndGlyphs">18만</text>
<text x="356.8" y="191.8" font-size="18" fill="#424242" textLength="26.1" lengthAdjust="spacingAndGlyphs">746</text>
<g transform="matrix(1 0 -0.17 0.68 129.25 0)" fill="none" stroke="#808080" stroke-width="5" stroke-linejoin="miter"><path d="M654.1 760.29V739.12H659.7Q663.1 739.12 663.1 742.52V760.29M685.4 757.79H673.9Q670.5 757.79 670.5 754.39V742.52Q670.5 739.12 673.9 739.12H679.5Q682.9 739.12 682.9 742.52V749.06H670.5M690.1 736.62V754.39Q690.1 757.79 693.5 757.79H702.9Q706.3 757.79 706.3 754.39V736.62M698.2 736.62V757.79M726.2 739.12H716.5Q713.1 739.12 713.1 742.52V745.06Q713.1 748.46 716.5 748.46H720.3Q723.7 748.46 723.7 751.86V754.39Q723.7 757.79 720.3 757.79H710.6"/></g><path fill="#808080" d="M739.5 496.34Q740.8 491 746.3 491L768.1 491Q775.6 491 773.83 498.29L770.19 513.27Q767.12 525.9 754.12 525.9L739.3 525.9Q732.3 525.9 733.96 519.1z"/><path fill="#e5e5e5" d="M746 496.8L751.6 495.7L745.3 520.3L738.5 520.3L742.9 506L737.3 506.9L736.9 504.1z"/></svg>
</body></html>
